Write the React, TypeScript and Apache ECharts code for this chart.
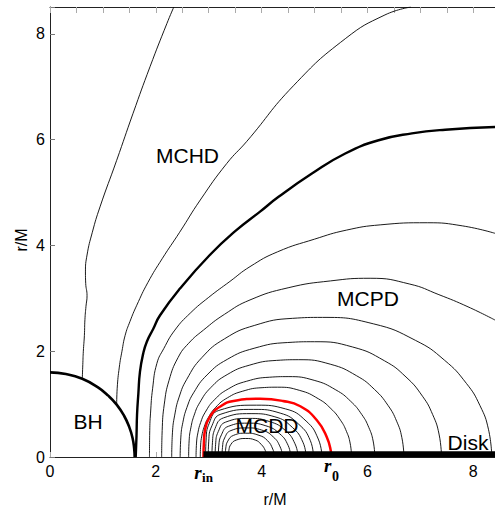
import React, { useEffect, useRef } from "react";
import * as echarts from "echarts";

const X_MAX = 8.41;
const Y_MAX = 8.51;
const tickValues = [0, 2, 4, 6, 8];

// Black hole horizon (quarter circle)
const blackHole = [[0, 1.6], [0.3, 1.57], [0.61, 1.48], [0.9, 1.32], [1.1, 1.16], [1.26, 0.99], [1.4, 0.78], [1.5, 0.56], [1.56, 0.36], [1.59, 0.17], [1.6, 0]];

// Field lines ending on the black hole
const bhLineOuter = [[0.61, 1.48], [0.62, 1.75], [0.63, 2.0], [0.65, 2.3], [0.66, 2.6], [0.68, 2.85], [0.7, 3.05], [0.675, 3.28], [0.67, 3.5], [0.7, 3.82], [0.8, 4.25], [0.945, 4.73], [1.26, 5.61], [1.57, 6.5], [1.89, 7.38], [2.21, 8.2], [2.34, 8.51]];
const bhLineInner = [[1.26, 0.99], [1.27, 1.3], [1.31, 1.7], [1.36, 2.0], [1.42, 2.3], [1.51, 2.56], [1.64, 2.87], [1.85, 3.3], [2.12, 3.75], [2.45, 4.25], [2.84, 4.86], [3.34, 5.55], [3.72, 5.97], [4.6, 7.02], [5.58, 7.91], [6.33, 8.36], [6.82, 8.51]];

// Separatrix (thick)
const separatrix = [[1.62, 0], [1.635, 0.4], [1.645, 0.8], [1.67, 1.2], [1.7, 1.61], [1.76, 1.95], [1.83, 2.18], [1.95, 2.42], [2.08, 2.68], [2.46, 3.19], [3.02, 3.82], [3.5, 4.27], [3.97, 4.64], [4.32, 4.92], [4.95, 5.36], [5.58, 5.74], [6.21, 5.99], [6.84, 6.12], [7.47, 6.19], [8.41, 6.24]];

// Open field lines from the equator to the disk / right edge (MCPD)
const arcA = [[1.88, 0], [1.885, 0.5], [1.9, 0.83], [1.94, 1.3], [2.02, 1.77], [2.15, 2.05], [2.36, 2.4], [2.65, 2.72], [3.0, 3.02], [3.4, 3.32], [3.78, 3.6], [4.3, 3.88], [5.0, 4.12], [5.6, 4.29], [6.24, 4.39], [7.13, 4.43], [7.8, 4.37], [8.41, 4.23]];
const arcB = [[2.11, 0], [2.12, 0.5], [2.16, 1.0], [2.25, 1.45], [2.42, 1.88], [2.62, 2.15], [2.9, 2.4], [3.3, 2.7], [3.78, 2.97], [4.5, 3.2], [5.3, 3.33], [6.05, 3.38], [6.8, 3.27], [7.35, 3.07], [7.9, 2.84], [8.41, 2.59]];
const arcC = [[2.3, 0], [2.314, 0.457], [2.357, 0.792], [2.44, 1.133], [2.585, 1.47], [2.87, 1.88], [3.3, 2.236], [3.87, 2.49], [4.58, 2.622], [5.15, 2.64], [6.11, 2.519], [6.91, 2.204], [7.454, 1.832], [7.87, 1.391], [8.126, 0.972], [8.286, 0.525], [8.35, 0]];
const arcD = [[2.46, 0], [2.473, 0.377], [2.511, 0.654], [2.587, 0.935], [2.714, 1.214], [2.968, 1.552], [3.349, 1.846], [3.857, 2.056], [4.492, 2.165], [5.0, 2.18], [5.72, 2.08], [6.32, 1.82], [6.728, 1.513], [7.04, 1.149], [7.232, 0.802], [7.352, 0.434], [7.4, 0]];
const arcE = [[2.62, 0], [2.63, 0.318], [2.662, 0.552], [2.724, 0.789], [2.828, 1.025], [3.036, 1.31], [3.348, 1.558], [3.764, 1.735], [4.284, 1.827], [4.7, 1.84], [5.297, 1.755], [5.795, 1.536], [6.133, 1.277], [6.392, 0.97], [6.551, 0.677], [6.65, 0.366], [6.69, 0]];
const arcF = [[2.76, 0], [2.769, 0.263], [2.795, 0.456], [2.847, 0.652], [2.934, 0.847], [3.108, 1.082], [3.369, 1.287], [3.717, 1.433], [4.152, 1.509], [4.5, 1.52], [4.992, 1.45], [5.402, 1.269], [5.681, 1.055], [5.894, 0.801], [6.025, 0.559], [6.107, 0.302], [6.14, 0]];
const arcG = [[2.84, 0], [2.847, 0.228], [2.869, 0.396], [2.913, 0.566], [2.986, 0.735], [3.132, 0.94], [3.351, 1.118], [3.643, 1.245], [4.008, 1.311], [4.3, 1.32], [4.72, 1.259], [5.07, 1.102], [5.308, 0.916], [5.49, 0.696], [5.602, 0.486], [5.672, 0.263], [5.7, 0]];

// Red boundary loop (r_in -> r_0)
const redLoop = [[2.9, 0], [2.91, 0.3], [2.93, 0.51], [3.02, 0.76], [3.21, 0.95], [3.47, 1.06], [3.97, 1.1], [4.4, 1.06], [4.73, 0.96], [5.04, 0.7], [5.23, 0.38], [5.31, 0.1], [5.32, 0]];

// Closed loops inside (MCDD)
const loop1 = [[3.37, 0], [3.38, 0.12], [3.42, 0.24], [3.52, 0.32], [3.7, 0.35], [3.88, 0.32], [3.99, 0.24], [4.07, 0.12], [4.1, 0]];
const loop2 = [[3.31, 0], [3.32, 0.15], [3.36, 0.3], [3.47, 0.41], [3.7, 0.45], [3.95, 0.41], [4.11, 0.31], [4.21, 0.15], [4.25, 0]];
const loop3 = [[3.25, 0], [3.26, 0.18], [3.3, 0.36], [3.42, 0.5], [3.72, 0.55], [4.0, 0.51], [4.22, 0.38], [4.35, 0.19], [4.4, 0]];
const loop4 = [[3.18, 0], [3.19, 0.21], [3.24, 0.42], [3.37, 0.58], [3.74, 0.64], [4.08, 0.59], [4.34, 0.44], [4.5, 0.22], [4.55, 0]];
const loop5 = [[3.12, 0], [3.13, 0.24], [3.18, 0.48], [3.32, 0.66], [3.76, 0.73], [4.15, 0.67], [4.45, 0.5], [4.63, 0.25], [4.69, 0]];
const loop6 = [[3.06, 0], [3.07, 0.27], [3.12, 0.54], [3.28, 0.74], [3.8, 0.82], [4.25, 0.76], [4.58, 0.56], [4.78, 0.28], [4.84, 0]];
const loop7 = [[2.99, 0], [3.0, 0.3], [3.06, 0.59], [3.23, 0.81], [3.85, 0.9], [4.35, 0.83], [4.7, 0.62], [4.92, 0.31], [4.98, 0]];
const loop8 = [[2.94, 0], [2.95, 0.32], [3.01, 0.64], [3.19, 0.88], [3.9, 0.98], [4.45, 0.91], [4.84, 0.68], [5.07, 0.34], [5.14, 0]];

// Disk on the equator from r_in outward
const disk = [[2.9, 0.05], [8.41, 0.05]];

const thinLines = [bhLineOuter, bhLineInner, arcA, arcB, arcC, arcD, arcE, arcF, arcG, loop1, loop2, loop3, loop4, loop5, loop6, loop7, loop8];

const SANS = "Liberation Sans";
const SERIF = "Liberation Serif";

export default function App() {
  const ref = useRef<HTMLDivElement>(null);
  useEffect(() => {
    if (!ref.current) return;
    const chart = echarts.init(ref.current, undefined, { renderer: "svg" });
    const line = (data: number[][], color: string, width: number, z: number) => ({
      type: "line",
      data,
      showSymbol: false,
      symbol: "none",
      smooth: 0.5,
      silent: true,
      z,
      lineStyle: { color, width },
      emphasis: { disabled: true },
    });
    const series: any[] = [];
    thinLines.forEach((d) => series.push(line(d, "#000", 0.9, 2)));
    series.push(line(blackHole, "#000", 2.6, 3));
    series.push(line(separatrix, "#000", 2.4, 3));
    series.push(line(redLoop, "#ff0000", 2.5, 4));
    series.push({ ...line(disk, "#000", 6, 5), smooth: false });

    const txt = (text: string, x: number, y: number, size: number, extra: any = {}, rotation = 0) => ({
      type: "text",
      x,
      y,
      rotation,
      silent: true,
      z: 10,
      style: { text, fill: "#000", fontSize: size, fontFamily: SANS, align: "center", verticalAlign: "middle", ...extra },
    });

    chart.setOption({
      animation: false,
      backgroundColor: "#fff",
      grid: { left: 50, right: 0, top: 7, bottom: 58, outerBoundsMode: "none" },
      xAxis: [
        {
          type: "value",
          min: 0,
          max: X_MAX,
          interval: 2,
          position: "bottom",
          axisLine: { show: true, onZero: false, lineStyle: { color: "#222", width: 1 } },
          axisTick: { show: true, inside: true, length: 5, lineStyle: { color: "#aaa" } },
          axisLabel: { fontSize: 16, fontFamily: SANS, color: "#000", margin: 6, formatter: (v: number) => (tickValues.includes(v) ? String(v) : "") },
          splitLine: { show: false },
        },
        {
          type: "value",
          min: 0,
          max: X_MAX,
          interval: 0.5,
          position: "top",
          axisLine: { show: true, onZero: false, lineStyle: { color: "#222", width: 1 } },
          axisTick: { show: true, inside: true, length: 6, lineStyle: { color: "#aaa" } },
          axisLabel: { show: false },
          splitLine: { show: false },
        },
      ],
      yAxis: [
        {
          type: "value",
          min: 0,
          max: Y_MAX,
          interval: 2,
          axisLine: { show: true, onZero: false, lineStyle: { color: "#222", width: 1 } },
          axisTick: { show: true, inside: true, length: 5, lineStyle: { color: "#777" } },
          axisLabel: { fontSize: 16, fontFamily: SANS, color: "#000", margin: 5, formatter: (v: number) => (tickValues.includes(v) ? String(v) : "") },
          splitLine: { show: false },
        },
      ],
      series,
      graphic: [
        txt("r/M", 275, 499, 16),
        txt("r/M", 21, 240, 16, {}, Math.PI / 2),
        txt("MCHD", 187.5, 155, 21),
        txt("MCPD", 368, 298, 21),
        txt("MCDD", 267, 425, 21),
        txt("Disk", 468, 442, 21),
        txt("BH", 88, 421, 21),
        txt("r", 198, 472.5, 19, { fontFamily: SERIF, fontStyle: "italic", fontWeight: "bold" }),
        txt("in", 207.5, 477.5, 13, { fontFamily: SERIF, fontWeight: "bold" }),
        txt("r", 327.8, 465.5, 19, { fontFamily: SERIF, fontStyle: "italic", fontWeight: "bold" }),
        txt("0", 335.5, 476, 14, { fontFamily: SERIF, fontWeight: "bold" }),
      ],
    });
    return () => chart.dispose();
  }, []);
  return <div ref={ref} style={{ position: "absolute", left: 0, top: 0, width: 495, height: 515 }} />;
}
